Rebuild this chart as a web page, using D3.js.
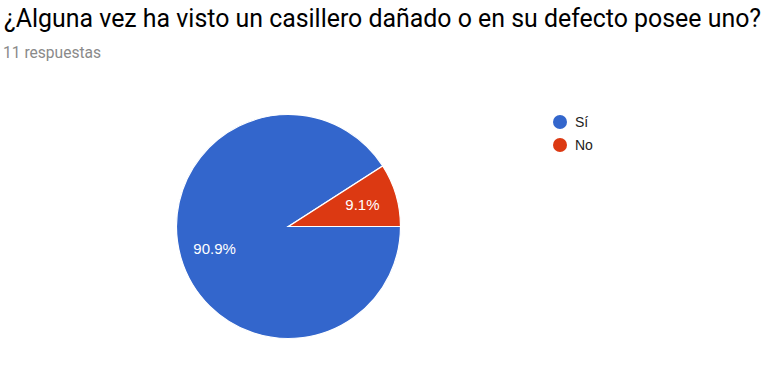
<!DOCTYPE html>
<html>
<head>
<meta charset="utf-8">
<script src="https://cdn.jsdelivr.net/npm/d3@7"></script>
<style>
html,body{margin:0;padding:0;background:#fff;}
svg{display:block;}
</style>
</head>
<body>
<svg id="chart" width="767" height="392"></svg>
<script>
const title = "¿Alguna vez ha visto un casillero dañado o en su defecto posee uno?";
const subtitle = "11 respuestas";
const categories = ["Sí", "No"];
const values = [10, 1];
const colors = ["#3366cc", "#dc3912"];

const svg = d3.select("#chart");
const W = 767, H = 392;
svg.append("rect").attr("width", W).attr("height", H).attr("fill", "#fff");

svg.append("text")
  .attr("x", 4).attr("y", 27)
  .attr("font-family", "Roboto, Arial, sans-serif")
  .attr("font-size", 24.9)
  .attr("fill", "#000")
  .text(title);

svg.append("text")
  .attr("x", 3).attr("y", 57.5)
  .attr("font-family", "Roboto, Arial, sans-serif")
  .attr("font-size", 15.6)
  .attr("fill", "#8a8a8a")
  .text(subtitle);

const cx = 288.5, cy = 226.5, r = 112;
const total = d3.sum(values);
const data = categories.map((c, i) => ({cat: c, value: values[i], color: colors[i]}));

const pie = d3.pie().value(d => d.value).sort(null)
  .startAngle(Math.PI / 2).endAngle(Math.PI / 2 + 2 * Math.PI);
const arcs = pie(data);
const arc = d3.arc().innerRadius(0).outerRadius(r);

const g = svg.append("g").attr("transform", `translate(${cx},${cy})`);
g.selectAll("path").data(arcs).join("path")
  .attr("d", arc)
  .attr("fill", d => d.data.color)
  .attr("stroke", "#fff")
  .attr("stroke-width", 1.2);

const fmt = v => (Math.round(v / total * 1000) / 10).toFixed(1) + "%";
g.selectAll("text.lbl").data(arcs).join("text")
  .attr("class", "lbl")
  .attr("transform", d => {
    const a = (d.startAngle + d.endAngle) / 2;
    const rr = 77;
    return `translate(${Math.sin(a) * rr},${-Math.cos(a) * rr})`;
  })
  .attr("text-anchor", "middle")
  .attr("dy", "0.36em")
  .attr("font-family", "Arial, 'Liberation Sans', sans-serif")
  .attr("font-size", 15)
  .attr("fill", "#fff")
  .text(d => fmt(d.data.value));

const legend = svg.append("g");
const items = legend.selectAll("g").data(data).join("g")
  .attr("transform", (d, i) => `translate(560,${122 + i * 23})`);
items.append("circle").attr("r", 7).attr("fill", d => d.color);
items.append("text")
  .attr("x", 15).attr("dy", "0.36em")
  .attr("font-family", "Arial, 'Liberation Sans', sans-serif")
  .attr("font-size", 14)
  .attr("fill", "#222")
  .text(d => d.cat);
</script>
</body>
</html>
